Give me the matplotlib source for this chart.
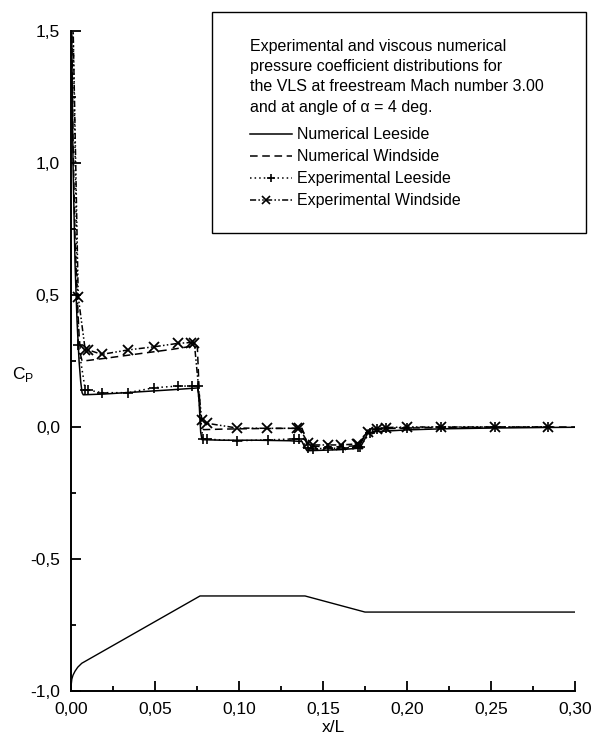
import matplotlib
matplotlib.use("Agg")
import matplotlib.pyplot as plt
from matplotlib.lines import Line2D
from matplotlib.patches import Rectangle
from matplotlib.ticker import MultipleLocator, FuncFormatter

plt.rcParams['font.family'] = ['Liberation Sans', 'DejaVu Sans']
plt.rcParams['mathtext.fontset'] = 'custom'
plt.rcParams['mathtext.rm'] = 'Liberation Sans'

# Numerical solution, leeside
num_lee_x = [0.0, 0.0004, 0.0012, 0.0024, 0.0036, 0.0048, 0.0058, 0.0066, 0.0073,
             0.02, 0.04, 0.06, 0.0755, 0.0762, 0.0772, 0.078, 0.09, 0.11, 0.13,
             0.1375, 0.139, 0.1405, 0.15, 0.16, 0.172, 0.1745, 0.1765, 0.18,
             0.2, 0.22, 0.25, 0.28, 0.30]
num_lee_y = [1.65, 1.5, 1.0, 0.62, 0.40, 0.25, 0.17, 0.13, 0.122,
             0.125, 0.133, 0.141, 0.148, 0.10, -0.02, -0.048, -0.05, -0.05, -0.052,
             -0.055, -0.075, -0.090, -0.088, -0.086, -0.080, -0.05, -0.025, -0.018,
             -0.011, -0.007, -0.004, -0.002, -0.001]

# Numerical solution, windside
num_wind_x = [0.0, 0.0004, 0.0012, 0.0024, 0.0036, 0.0048, 0.0058, 0.0066, 0.01,
              0.02, 0.04, 0.06, 0.073, 0.0752, 0.0762, 0.0772, 0.079, 0.09, 0.11,
              0.13, 0.1375, 0.139, 0.1405, 0.15, 0.16, 0.172, 0.1745, 0.1765, 0.18,
              0.2, 0.22, 0.25, 0.28, 0.30]
num_wind_y = [1.7, 1.55, 1.08, 0.72, 0.50, 0.35, 0.27, 0.25, 0.252,
              0.26, 0.277, 0.294, 0.307, 0.305, 0.15, 0.0, -0.01, -0.008, -0.006,
              -0.005, -0.005, -0.03, -0.07, -0.075, -0.075, -0.070, -0.035, -0.012, -0.008,
              -0.004, -0.002, -0.001, 0.0, 0.0]

# Wind-tunnel measurements, leeside
exp_lee_x = [0.001, 0.0043, 0.0085, 0.0103, 0.0183, 0.034, 0.0496, 0.0639, 0.0722,
             0.0754, 0.0784, 0.081, 0.099, 0.117, 0.133, 0.136, 0.1412, 0.144, 0.153,
             0.162, 0.171, 0.172, 0.178, 0.182, 0.1875, 0.2, 0.22, 0.2524, 0.284]
exp_lee_y = [1.6, 0.31, 0.14, 0.14, 0.13, 0.13, 0.149, 0.155, 0.155,
             0.155, -0.045, -0.046, -0.052, -0.049, -0.045, -0.045, -0.081, -0.082, -0.081,
             -0.080, -0.075, -0.075, -0.021, -0.009, -0.005, -0.002, 0.0, 0.0, 0.0]

# Wind-tunnel measurements, windside
exp_wind_x = [0.001, 0.0043, 0.0085, 0.0103, 0.0183, 0.0341, 0.0496, 0.0639, 0.0715,
              0.0734, 0.0778, 0.0811, 0.099, 0.1168, 0.1347, 0.1357, 0.1413, 0.1442,
              0.153, 0.161, 0.170, 0.171, 0.177, 0.182, 0.1875, 0.1998, 0.2202,
              0.2524, 0.284]
exp_wind_y = [1.6, 0.494, 0.29, 0.292, 0.275, 0.292, 0.304, 0.317, 0.32,
              0.319, 0.027, 0.014, -0.004, -0.005, -0.005, -0.002, -0.062, -0.068,
              -0.068, -0.068, -0.064, -0.066, -0.018, -0.006, -0.002, 0.0, 0.0,
              0.0, 0.0]

# Vehicle contour sketched along the lower part of the plot
body_x = [0.0, 0.0, 0.0002, 0.0005, 0.0012, 0.0024, 0.004, 0.0064, 0.0768,
          0.1393, 0.175, 0.30]
body_y = [-1.0, -0.985, -0.972, -0.955, -0.94, -0.925, -0.91, -0.895, -0.640,
          -0.640, -0.701, -0.701]

x_ticks = [0.00, 0.05, 0.10, 0.15, 0.20, 0.25, 0.30]
y_ticks = [-1.0, -0.5, 0.0, 0.5, 1.0, 1.5]

title_lines = [
    "Experimental and viscous numerical",
    "pressure coefficient distributions for",
    "the VLS at freestream Mach number 3.00",
    "and at angle of \u03b1 = 4 deg.",
]
series_labels = ["Numerical Leeside", "Numerical Windside",
                 "Experimental Leeside", "Experimental Windside"]

W, H = 591, 742
fig = plt.figure(figsize=(W / 100, H / 100), dpi=100)
ax = fig.add_axes([71 / W, 1 - 691 / H, (575 - 71) / W, (691 - 31) / H])

lw = 1.1
dash_ls = (0, (5, 3))
dot_ls = (0, (1, 2))
dashdotdot_ls = (0, (4, 1.5, 1, 1.5, 1, 1.5))

ax.plot(num_lee_x, num_lee_y, color='black', lw=lw, ls='-')
ax.plot(num_wind_x, num_wind_y, color='black', lw=lw, ls=dash_ls)
ax.plot(exp_lee_x, exp_lee_y, color='black', lw=lw, ls=dot_ls,
        marker='+', ms=7, mew=1.2)
ax.plot(exp_wind_x, exp_wind_y, color='black', lw=lw, ls=dashdotdot_ls,
        marker='x', ms=6.5, mew=1.3)
ax.plot(body_x, body_y, color='black', lw=1.0, ls='-')

ax.set_xlim(0.0, 0.30)
ax.set_ylim(-1.0, 1.5)
ax.set_xticks(x_ticks)
ax.set_yticks(y_ticks)
ax.xaxis.set_minor_locator(MultipleLocator(0.025))
ax.yaxis.set_minor_locator(MultipleLocator(0.25))
ax.xaxis.set_major_formatter(FuncFormatter(lambda v, p: f"{v:.2f}".replace('.', ',')))
ax.yaxis.set_major_formatter(FuncFormatter(lambda v, p: f"{v:.1f}".replace('.', ',')))

for side in ('top', 'right'):
    ax.spines[side].set_visible(False)
for side in ('left', 'bottom'):
    ax.spines[side].set_linewidth(1.4)

ax.tick_params(which='major', direction='in', length=7.5, width=1.3,
               labelsize=12.5, pad=8)
ax.tick_params(which='minor', direction='in', length=3.8, width=1.3)

ax.set_xlabel("x/L", fontsize=12.5, va='center')
ax.xaxis.set_label_coords(0.52, -0.056)
ax.set_ylabel(r"C$_{\mathrm{P}}$", fontsize=12.5, rotation=0, va='center')
ax.yaxis.set_label_coords(-0.095, 0.48)


def fx(px):
    return px / W


def fy(py):
    return 1 - py / H


# Framed annotation with the series key
fig.add_artist(Rectangle((fx(212), fy(233)), fx(586) - fx(212), fy(12) - fy(233),
                         transform=fig.transFigure, fill=False, ec='black', lw=1.0))

text_size = 11.5
baselines = [51, 71, 91, 112]
for line, yb in zip(title_lines, baselines):
    fig.text(fx(250), fy(yb), line, fontsize=text_size, va='baseline', ha='left')

key_base = [139, 161, 183, 205]
key_styles = [
    dict(ls='-', marker=None),
    dict(ls=dash_ls, marker=None),
    dict(ls=dot_ls, marker='+'),
    dict(ls=dashdotdot_ls, marker='x'),
]
for label, yb, st in zip(series_labels, key_base, key_styles):
    yl = fy(yb - 5)
    fig.add_artist(Line2D([fx(250), fx(292)], [yl, yl], transform=fig.transFigure,
                          color='black', lw=lw, ls=st['ls']))
    if st['marker'] is not None:
        mx = fx(271) if st['marker'] == '+' else fx(266)
        fig.add_artist(Line2D([mx], [yl], transform=fig.transFigure, color='black',
                              marker=st['marker'], ms=6, mew=1.2, ls='none'))
    fig.text(fx(297), fy(yb), label, fontsize=text_size, va='baseline', ha='left')

fig.savefig("out.png", dpi=100)
